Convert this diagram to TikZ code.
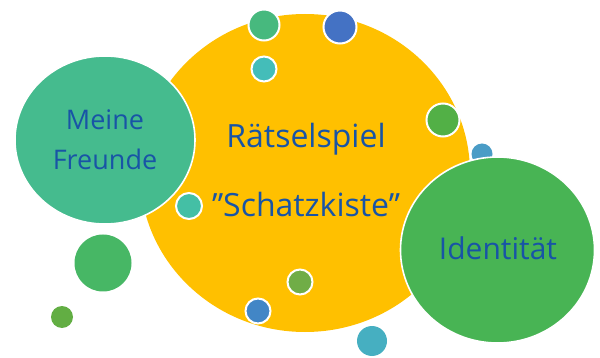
\documentclass[tikz,border=0pt]{standalone}
\usepackage{fontspec}
\setmainfont{Open Sans}
\definecolor{txt}{RGB}{24,84,166}
\definecolor{yel}{RGB}{255,192,0}
\definecolor{tealbig}{RGB}{69,187,142}
\definecolor{greenbig}{RGB}{72,180,84}
\definecolor{cA}{RGB}{71,185,126}
\definecolor{cB}{RGB}{68,114,196}
\definecolor{cC}{RGB}{68,189,185}
\definecolor{cD}{RGB}{82,176,70}
\definecolor{cE}{RGB}{74,156,198}
\definecolor{cF}{RGB}{68,191,165}
\definecolor{cG}{RGB}{71,183,101}
\definecolor{cH}{RGB}{98,174,67}
\definecolor{cI}{RGB}{112,173,71}
\definecolor{cJ}{RGB}{66,134,198}
\definecolor{cK}{RGB}{70,175,193}
\begin{document}
\begin{tikzpicture}[x=1pt,y=-1pt,
  bubble/.style={circle,inner sep=0pt,draw=white,line width=2pt,fill=#1},
  plain/.style={circle,inner sep=0pt,fill=#1},
  label text/.style={text=txt,font=\fontsize{#1}{40}\selectfont,align=center}]
\useasboundingbox (0,0) rectangle (600,358);
% main yellow circle
\fill[yel] (305,173) ellipse [x radius=165, y radius=159];
% small bubbles on / around the yellow circle
\node[bubble=cA,minimum size=31pt] (b1) at (264,25) {};
\node[bubble=cB,minimum size=33pt] (b2) at (340,27) {};
\node[bubble=cC,minimum size=25pt] (b3) at (264,69) {};
\node[bubble=cD,minimum size=33pt] (b4) at (443,120) {};
\node[plain=cE,minimum size=21pt] (b5) at (482,154) {};
\node[bubble=cF,minimum size=26pt] (b6) at (189,206) {};
\node[plain=cG,minimum size=57pt] (b7) at (103,263) {};
\node[plain=cH,minimum size=22pt] (b8) at (62,317) {};
\node[bubble=cI,minimum size=25pt] (b9) at (300,282) {};
\node[bubble=cJ,minimum size=25pt] (b10) at (258,311) {};
\node[plain=cK,minimum size=30pt] (b11) at (372,341) {};
% texts on yellow
\node[label text=32] (t1) at (306,139) {Rätselspiel};
\node[label text=32] (t2) at (306,205) {\symbol{34}Schatzkiste\symbol{34}};
% big circles
\fill[tealbig] (105,140) ellipse [x radius=90, y radius=84];
\draw[white,line width=1.6pt] (105,140) ellipse [x radius=90, y radius=84];
\node[label text=27] (mf) at (105,140) {Meine\\Freunde};
\fill[greenbig] (497.5,250) ellipse [x radius=97, y radius=93];
\draw[white,line width=1.6pt] (497.5,250) ellipse [x radius=97, y radius=93];
\node[label text=30] (id) at (498,248) {Identität};
\end{tikzpicture}
\end{document}
